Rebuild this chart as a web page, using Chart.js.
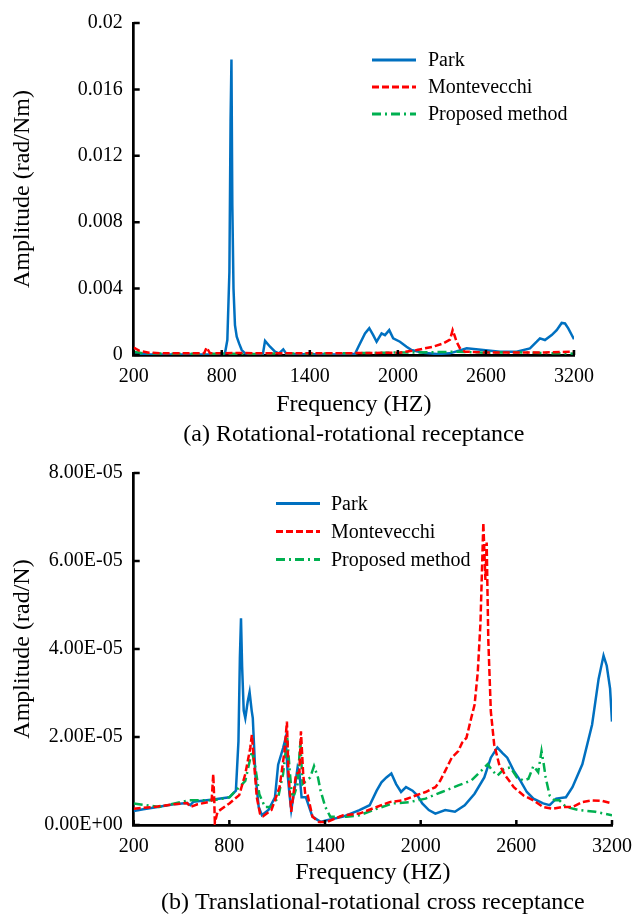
<!DOCTYPE html>
<html>
<head>
<meta charset="utf-8">
<title>Receptance comparison</title>
<script src="https://cdn.jsdelivr.net/npm/chart.js@4.4.1/dist/chart.umd.min.js"></script>
<style>
  body { margin: 0; background: #fff; }
  canvas { display: block; }
</style>
</head>
<body>
<canvas id="chartA" width="642" height="450"></canvas>
<canvas id="chartB" width="642" height="467"></canvas>
<script>
// ---- (a) rotational-rotational receptance, rad/Nm ----
var parkFreqA = [200, 300, 600, 800, 822, 838, 852, 860, 866, 872, 880, 890, 902, 918, 936, 959, 1000, 1080, 1095, 1129, 1163, 1190, 1219, 1242, 1400, 1600, 1708, 1731, 1776, 1805, 1832, 1855, 1889, 1912, 1941, 1968, 2014, 2059, 2093, 2173, 2264, 2355, 2469, 2582, 2696, 2809, 2900, 2946, 2968, 3002, 3048, 3082, 3116, 3139, 3161, 3191, 3200];
var parkA = [0.0001, 0.00005, 0.00003, 0.00005, 0.0001, 0.0009, 0.005, 0.0141, 0.0178, 0.009, 0.004, 0.0018, 0.0011, 0.0007, 0.0003, 0.0001, 0.00005, 0.00005, 0.00085, 0.0005, 0.0002, 0.0001, 0.00034, 0.00005, 0.00005, 0.00003, 0.00008, 0.0005, 0.0013, 0.00162, 0.0012, 0.0008, 0.0013, 0.0012, 0.0015, 0.001, 0.0008, 0.0005, 0.0003, 0.00014, 0.00006, 0.0001, 0.0004, 0.0003, 0.0002, 0.0002, 0.0004, 0.0008, 0.001, 0.0009, 0.0012, 0.0015, 0.00193, 0.0019, 0.0016, 0.0011, 0.00095];

var monteFreqA = [200, 236, 304, 400, 600, 680, 697, 720, 900, 1200, 1500, 1800, 2014, 2128, 2241, 2309, 2355, 2373, 2389, 2400, 2423, 2457, 2600, 2800, 3000, 3200];
var monteA = [0.00045, 0.00026, 0.00014, 0.0001, 0.0001, 0.0001, 0.00045, 0.0001, 0.00012, 0.0001, 0.0001, 0.00012, 0.00014, 0.0003, 0.0005, 0.0007, 0.00093, 0.0015, 0.0011, 0.0008, 0.0004, 0.0002, 0.00015, 0.00015, 0.00015, 0.0002];

var propFreqA = [200, 260, 500, 800, 1000, 1200, 1400, 1600, 1800, 2000, 2200, 2400, 2600, 2800, 3000, 3200];
var propA = [0.0002, 0.0001, 0.00007, 0.00008, 0.00006, 0.0001, 0.00007, 0.0001, 0.00012, 0.00015, 0.00016, 0.0002, 0.00014, 0.00016, 0.00012, 0.00008];

var yLabelsA = ['0', '0.004', '0.008', '0.012', '0.016', '0.02'];

// ---- (b) translational-rotational cross receptance, x1e-5 rad/N ----
var parkFreqB = [200, 260, 350, 450, 535, 555, 575, 700, 800, 841, 857, 866, 873, 880, 890, 900, 915, 927, 940, 947, 963, 984, 1004, 1045, 1086, 1106, 1137, 1153, 1167, 1177, 1188, 1208, 1228, 1239, 1253, 1280, 1321, 1372, 1412, 1514, 1616, 1680, 1724, 1754, 1785, 1816, 1846, 1877, 1908, 1949, 1980, 2010, 2051, 2092, 2154, 2215, 2276, 2338, 2399, 2440, 2481, 2512, 2543, 2584, 2625, 2666, 2707, 2768, 2809, 2850, 2911, 2952, 3014, 3075, 3116, 3147, 3167, 3188, 3200];
var parkB = [0.32, 0.36, 0.41, 0.47, 0.50, 0.45, 0.53, 0.58, 0.63, 0.78, 1.9, 3.8, 4.7, 3.6, 2.6, 2.43, 2.8, 3.02, 2.6, 2.43, 1.16, 0.41, 0.22, 0.34, 0.63, 1.37, 1.75, 1.98, 1.1, 0.7, 0.34, 0.78, 1.31, 1.2, 0.63, 0.63, 0.19, 0.07, 0.11, 0.19, 0.34, 0.45, 0.78, 0.97, 1.08, 1.17, 0.93, 0.75, 0.86, 0.78, 0.67, 0.49, 0.34, 0.26, 0.34, 0.30, 0.45, 0.71, 1.08, 1.53, 1.76, 1.64, 1.53, 1.23, 1.01, 0.75, 0.60, 0.49, 0.45, 0.60, 0.63, 0.86, 1.38, 2.28, 3.32, 3.85, 3.62, 3.10, 2.35];

var monteFreqB = [200, 350, 450, 535, 555, 600, 668, 689, 699, 705, 709, 726, 800, 862, 900, 931, 941, 957, 972, 992, 1012, 1064, 1115, 1146, 1161, 1171, 1188, 1202, 1218, 1239, 1249, 1263, 1276, 1290, 1321, 1362, 1412, 1514, 1616, 1724, 1805, 1887, 1969, 2031, 2092, 2123, 2154, 2195, 2236, 2260, 2287, 2317, 2338, 2358, 2375, 2385, 2393, 2406, 2414, 2424, 2440, 2461, 2492, 2532, 2584, 2645, 2707, 2768, 2829, 2891, 2952, 3014, 3075, 3137, 3200];
var monteB = [0.37, 0.42, 0.47, 0.50, 0.41, 0.47, 0.52, 0.56, 1.16, 0.6, 0.05, 0.30, 0.49, 0.68, 1.16, 1.75, 2.05, 1.31, 0.63, 0.26, 0.20, 0.34, 0.86, 1.68, 2.35, 1.16, 0.30, 0.7, 1.16, 1.2, 2.13, 1.16, 0.70, 0.70, 0.19, 0.07, 0.07, 0.22, 0.26, 0.41, 0.52, 0.56, 0.67, 0.75, 0.86, 1.01, 1.23, 1.53, 1.68, 1.87, 1.98, 2.43, 2.73, 3.47, 4.59, 5.86, 6.87, 5.57, 6.42, 4.22, 2.58, 1.83, 1.38, 1.12, 0.86, 0.67, 0.56, 0.41, 0.37, 0.41, 0.41, 0.52, 0.56, 0.55, 0.49];

var propFreqB = [200, 359, 545, 700, 800, 862, 900, 941, 963, 988, 1023, 1064, 1106, 1137, 1163, 1177, 1191, 1208, 1228, 1245, 1259, 1280, 1307, 1331, 1356, 1372, 1402, 1433, 1535, 1616, 1724, 1826, 1928, 2031, 2133, 2236, 2317, 2379, 2420, 2451, 2481, 2522, 2563, 2604, 2645, 2676, 2707, 2737, 2758, 2772, 2784, 2809, 2840, 2870, 2911, 2993, 3096, 3200];
var propB = [0.49, 0.41, 0.56, 0.56, 0.63, 0.86, 1.0, 1.68, 1.31, 0.70, 0.41, 0.41, 0.63, 1.16, 1.98, 1.31, 0.70, 0.70, 0.93, 1.90, 0.93, 1.0, 1.08, 1.34, 1.08, 0.78, 0.41, 0.19, 0.19, 0.22, 0.37, 0.49, 0.52, 0.60, 0.75, 0.90, 1.01, 1.23, 1.38, 1.23, 1.12, 1.27, 1.31, 1.08, 1.01, 1.05, 1.34, 1.2, 1.68, 1.38, 1.08, 0.67, 0.56, 0.56, 0.41, 0.34, 0.30, 0.22];

var yLabelsB = ['0.00E+00', '2.00E-05', '4.00E-05', '6.00E-05', '8.00E-05'];

var xLabels = ['200', '800', '1400', '2000', '2600', '3200'];
var seriesNames = ['Park', 'Montevecchi', 'Proposed method'];

var FONT = "'Times New Roman', 'Liberation Serif', serif";
Chart.defaults.font.family = FONT;
Chart.defaults.color = '#000';

function pts(fs, vs, k) {
  return fs.map(function (f, i) { return { x: f, y: vs[i] * k }; });
}

// tick marks pointing into the plot, like the original
var innerTicks = {
  id: 'innerTicks',
  afterDatasetsDraw: function (chart) {
    var ctx = chart.ctx, a = chart.chartArea, xs = chart.scales.x, ys = chart.scales.y;
    ctx.save();
    ctx.strokeStyle = '#000';
    ctx.lineWidth = 2.5;
    ctx.beginPath();
    ys.ticks.forEach(function (t) {
      var p = ys.getPixelForValue(t.value);
      ctx.moveTo(a.left, p); ctx.lineTo(a.left + 6, p);
    });
    xs.ticks.forEach(function (t) {
      var p = xs.getPixelForValue(t.value);
      ctx.moveTo(p, a.bottom); ctx.lineTo(p, a.bottom - 5);
    });
    ctx.stroke();
    ctx.restore();
  }
};

// legend drawn inside the plot
var legendLines = {
  id: 'legendLines',
  afterDraw: function (chart, args, o) {
    var ctx = chart.ctx;
    chart.data.datasets.forEach(function (ds, i) {
      var y = o.y0 + i * o.dy;
      ctx.save();
      ctx.strokeStyle = ds.borderColor;
      ctx.lineWidth = 3;
      ctx.setLineDash(ds.borderDash || []);
      ctx.beginPath(); ctx.moveTo(o.x1, y); ctx.lineTo(o.x2, y); ctx.stroke();
      ctx.setLineDash([]);
      ctx.fillStyle = '#000';
      ctx.font = '20px ' + FONT;
      ctx.textBaseline = 'middle';
      ctx.fillText(ds.label, o.tx, y + 1);
      ctx.restore();
    });
  }
};

function makeDatasets(p, m, q) {
  return [
    { label: seriesNames[0], data: p, borderColor: '#0070C0', borderWidth: 2.5, order: 3 },
    { label: seriesNames[1], data: m, borderColor: '#FF0000', borderWidth: 2.5, borderDash: [7, 3], order: 1 },
    { label: seriesNames[2], data: q, borderColor: '#00B050', borderWidth: 2.5, borderDash: [9, 4, 2, 4], order: 2 }
  ];
}

function makeChart(id, cfg) {
  return new Chart(document.getElementById(id), {
    type: 'line',
    data: { datasets: cfg.datasets },
    plugins: [innerTicks, legendLines],
    options: {
      responsive: false,
      animation: false,
      layout: { padding: { left: 0, right: cfg.padRight, top: 18, bottom: 0 } },
      elements: { point: { radius: 0 }, line: { tension: 0, fill: false } },
      plugins: {
        legend: { display: false },
        tooltip: { enabled: false },
        title: {
          display: true, position: 'bottom', fullSize: false,
          text: cfg.caption, color: '#000',
          font: { size: 24, weight: 'normal', lineHeight: 1 },
          padding: { top: 0, bottom: cfg.capPad }
        },
        legendLines: cfg.legend
      },
      scales: {
        x: {
          type: 'linear', min: 200, max: 3200,
          grid: { display: false, drawTicks: false },
          border: { display: true, color: '#000', width: 2.7 },
          ticks: { stepSize: 600, padding: 10, font: { size: 20 }, maxRotation: 0,
            callback: function (v) { return xLabels[Math.round((v - 200) / 600)]; } },
          title: { display: true, text: 'Frequency (HZ)', font: { size: 24, lineHeight: 1 }, padding: { top: 0, bottom: 6 } },
          afterFit: function (s) { s.height = cfg.xHeight; }
        },
        y: {
          min: 0, max: cfg.yMax,
          grid: { display: false, drawTicks: false },
          border: { display: true, color: '#000', width: 2.7 },
          ticks: { stepSize: cfg.yStep, padding: 11, font: { size: 20 },
            callback: function (v) { return cfg.yLabels[Math.round(v / cfg.yStep)]; } },
          title: { display: true, text: cfg.yTitle, font: { size: 24, lineHeight: 1.2 }, padding: { top: 8, bottom: 0 } },
          afterFit: function (s) { s.width = 133.7; }
        }
      }
    }
  });
}

makeChart('chartA', {
  datasets: makeDatasets(pts(parkFreqA, parkA, 1), pts(monteFreqA, monteA, 1), pts(propFreqA, propA, 1)),
  caption: '(a) Rotational-rotational receptance',
  yTitle: 'Amplitude (rad/Nm)',
  yMax: 0.02, yStep: 0.004, yLabels: yLabelsA,
  padRight: 68, xHeight: 68, capPad: 3,
  legend: { x1: 372, x2: 416, tx: 428, y0: 60, dy: 27 }
});

makeChart('chartB', {
  datasets: makeDatasets(pts(parkFreqB, parkB, 1e-5), pts(monteFreqB, monteB, 1e-5), pts(propFreqB, propB, 1e-5)),
  caption: '(b) Translational-rotational cross receptance',
  yTitle: 'Amplitude (rad/N)',
  yMax: 8e-5, yStep: 2e-5, yLabels: yLabelsB,
  padRight: 18.5, xHeight: 66, capPad: 2,
  legend: { x1: 276, x2: 320, tx: 331, y0: 53.5, dy: 28 }
});
</script>
</body>
</html>
